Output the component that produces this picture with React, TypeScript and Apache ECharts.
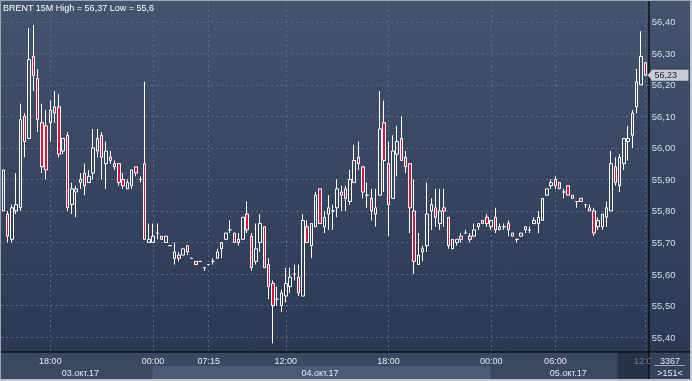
import React, { useEffect, useRef } from 'react';
import * as echarts from 'echarts';

// ---- data (15-minute Brent bars, left to right) ----
const opens = [
  55.80, 55.79, 55.71, 55.80, 55.81, 56.10, 56.03, 56.29, 56.22, 56.08,
  56.07, 56.08, 56.13, 56.13, 55.99, 56.04, 55.82, 55.86, 55.89, 55.92,
  55.89, 55.92, 55.99, 56.04, 55.95, 55.97, 55.95, 55.95, 55.90, 55.87,
  55.88, 55.94, 55.90, 55.95, 55.70, 55.70, 55.73, 55.72, 55.70, 55.69,
  55.65, 55.66, 55.66, 55.69, 55.65, 55.64, 55.64, 55.62, 55.63, 55.64,
  55.65, 55.68, 55.71, 55.74, 55.73, 55.71, 55.71, 55.79, 55.72, 55.64,
  55.70, 55.75, 55.63, 55.57, 55.52, 55.50, 55.53, 55.56, 55.60, 55.59,
  55.53, 55.75, 55.69, 55.75, 55.87, 55.75, 55.79, 55.80, 55.81, 55.85,
  55.87, 55.83, 55.89, 55.97, 55.94, 55.85, 55.84, 55.79, 55.85, 56.08,
  55.95, 55.84, 55.98, 56.03, 55.97, 55.95, 55.80, 55.63, 55.67, 55.69,
  55.80, 55.81, 55.76, 55.81, 55.78, 55.68, 55.70, 55.72, 55.73, 55.72,
  55.72, 55.75, 55.77, 55.78, 55.75, 55.78, 55.75, 55.75, 55.76, 55.73,
  55.71, 55.72, 55.74, 55.74, 55.76, 55.76, 55.77, 55.85, 55.88, 55.90,
  55.89, 55.86, 55.88, 55.84, 55.83, 55.84, 55.82, 55.81, 55.80, 55.75,
  55.75, 55.78, 55.80, 55.94, 55.88, 55.95, 56.02, 56.04, 56.13, 56.20,
  56.27
];
const closes = [
  55.93, 55.72, 55.81, 55.82, 56.09, 56.02, 56.28, 56.23, 56.09, 55.94,
  55.93, 56.12, 56.11, 55.98, 56.03, 55.81, 55.87, 55.87, 55.90, 55.88,
  55.91, 56.00, 56.03, 55.97, 55.99, 55.96, 55.94, 55.89, 55.88, 55.89,
  55.93, 55.92, 55.90, 55.71, 55.71, 55.72, 55.73, 55.71, 55.72, 55.69,
  55.67, 55.65, 55.68, 55.67, 55.65, 55.63, 55.64, 55.62, 55.63, 55.64,
  55.67, 55.70, 55.73, 55.74, 55.70, 55.70, 55.78, 55.74, 55.62, 55.68,
  55.76, 55.62, 55.56, 55.50, 55.52, 55.54, 55.57, 55.59, 55.60, 55.54,
  55.77, 55.70, 55.76, 55.85, 55.76, 55.78, 55.81, 55.80, 55.87, 55.86,
  55.84, 55.90, 55.96, 55.95, 55.86, 55.85, 55.80, 55.81, 56.06, 55.96,
  55.82, 55.99, 56.02, 55.96, 55.94, 55.81, 55.64, 55.66, 55.68, 55.79,
  55.82, 55.78, 55.80, 55.80, 55.69, 55.71, 55.71, 55.71, 55.73, 55.71,
  55.74, 55.76, 55.76, 55.76, 55.77, 55.74, 55.74, 55.75, 55.74, 55.72,
  55.71, 55.73, 55.75, 55.74, 55.77, 55.78, 55.84, 55.87, 55.89, 55.88,
  55.87, 55.86, 55.85, 55.85, 55.83, 55.83, 55.82, 55.80, 55.73, 55.77,
  55.79, 55.81, 55.95, 55.89, 55.97, 56.03, 56.03, 56.11, 56.21, 56.29,
  56.23
];
const lows = [
  55.80, 55.70, 55.70, 55.79, 55.80, 55.97, 56.03, 56.18, 56.05, 55.92,
  55.90, 56.02, 56.08, 55.97, 55.98, 55.80, 55.79, 55.78, 55.87, 55.85,
  55.89, 55.90, 55.97, 55.90, 55.87, 55.95, 55.93, 55.88, 55.87, 55.87,
  55.87, 55.91, 55.89, 55.71, 55.70, 55.70, 55.71, 55.71, 55.70, 55.69,
  55.63, 55.64, 55.66, 55.66, 55.65, 55.63, 55.64, 55.61, 55.63, 55.63,
  55.65, 55.65, 55.71, 55.73, 55.70, 55.69, 55.71, 55.73, 55.61, 55.63,
  55.67, 55.62, 55.52, 55.38, 55.50, 55.48, 55.51, 55.54, 55.58, 55.53,
  55.53, 55.70, 55.65, 55.75, 55.76, 55.73, 55.74, 55.74, 55.78, 55.80,
  55.80, 55.82, 55.89, 55.93, 55.84, 55.81, 55.77, 55.75, 55.85, 55.86,
  55.72, 55.84, 55.91, 55.96, 55.92, 55.73, 55.60, 55.63, 55.64, 55.67,
  55.74, 55.75, 55.74, 55.75, 55.68, 55.68, 55.69, 55.70, 55.73, 55.70,
  55.72, 55.74, 55.76, 55.75, 55.74, 55.73, 55.74, 55.74, 55.72, 55.72,
  55.70, 55.72, 55.73, 55.73, 55.76, 55.73, 55.77, 55.85, 55.87, 55.87,
  55.87, 55.84, 55.85, 55.84, 55.81, 55.83, 55.81, 55.80, 55.72, 55.74,
  55.74, 55.75, 55.80, 55.88, 55.86, 55.93, 55.96, 56.00, 56.11, 56.20,
  56.23
];
const highs = [
  55.93, 55.80, 55.82, 55.92, 56.14, 56.11, 56.38, 56.39, 56.25, 56.14,
  56.12, 56.15, 56.18, 56.17, 56.03, 56.05, 55.89, 55.88, 55.92, 55.95,
  55.93, 56.06, 56.06, 56.05, 56.02, 55.99, 55.96, 55.95, 55.92, 55.90,
  55.93, 55.94, 55.91, 56.21, 55.76, 55.76, 55.76, 55.72, 55.72, 55.69,
  55.70, 55.67, 55.68, 55.69, 55.65, 55.64, 55.64, 55.62, 55.63, 55.65,
  55.68, 55.70, 55.73, 55.77, 55.73, 55.73, 55.78, 55.83, 55.73, 55.76,
  55.79, 55.75, 55.65, 55.58, 55.56, 55.55, 55.62, 55.62, 55.63, 55.63,
  55.79, 55.77, 55.76, 55.86, 55.87, 55.80, 55.85, 55.82, 55.90, 55.88,
  55.88, 55.93, 56.01, 56.02, 55.94, 55.89, 55.87, 55.87, 56.18, 56.15,
  56.02, 56.04, 56.07, 56.10, 55.99, 55.95, 55.90, 55.73, 55.69, 55.89,
  55.84, 55.87, 55.87, 55.87, 55.78, 55.71, 55.71, 55.73, 55.74, 55.73,
  55.76, 55.76, 55.77, 55.79, 55.77, 55.81, 55.76, 55.76, 55.77, 55.73,
  55.71, 55.73, 55.75, 55.75, 55.78, 55.80, 55.84, 55.87, 55.90, 55.91,
  55.89, 55.87, 55.88, 55.85, 55.83, 55.84, 55.82, 55.82, 55.81, 55.78,
  55.79, 55.83, 55.99, 55.97, 55.98, 56.03, 56.07, 56.12, 56.25, 56.37,
  56.27
];
const categories = opens.map((_, i) => String(i));

// time tick labels (bar index -> label)
const timeTickIdx = [11, 35, 48, 66, 90, 114, 129, 150];
const timeTickLabels = ['18:00', '00:00', '07:15', '12:00', '18:00', '00:00', '06:00', '12:00'];
const dateIdx = [18, 74, 132];
const dateLabels = ['03.окт.17', '04.окт.17', '05.окт.17'];

const titleText = 'BRENT 15M High = 56,37 Low = 55,6';
const lastPrice = closes[closes.length - 1];
const barsTotal = '3367';
const barsVisible = '>151<';

const FONT = '"Liberation Sans", Arial, sans-serif';
const GRID_COLOR = '#5a6a88';
const fmt = (v: number) => v.toFixed(2).replace('.', ',');
const isTenth = (v: number) => Math.abs(v * 10 - Math.round(v * 10)) < 1e-6;

export default function App() {
  const ref = useRef<HTMLDivElement>(null);
  useEffect(() => {
    if (!ref.current) return;
    const chart = echarts.init(ref.current, undefined, { renderer: 'svg' });
    const data = opens.map((o, i) => [o, closes[i], lows[i], highs[i]]);

    const graphic: any[] = [
      {
        id: 'bg', type: 'rect', z: -10, silent: true,
        shape: { x: 0, y: 0, width: 692, height: 381 },
        style: {
          fill: { type: 'linear', x: 0, y: 0, x2: 0, y2: 1,
            colorStops: [{ offset: 0, color: '#44536e' }, { offset: 1, color: '#2a3652' }] },
        },
      },
      { id: 'bottomPanel', type: 'rect', z: 5, silent: true,
        shape: { x: 0, y: 352, width: 692, height: 27 }, style: { fill: '#3a4862' } },
      { id: 'dayBand', type: 'rect', z: 6, silent: true,
        shape: { x: 152.5, y: 366, width: 338, height: 13 }, style: { fill: '#4b5a76' } },
      { id: 'nowBox', type: 'rect', z: 6, silent: true,
        shape: { x: 617.5, y: 352.5, width: 31.5, height: 26.5 }, style: { fill: '#28334a' } },
      { id: 'hSep', type: 'line', z: 8, silent: true,
        shape: { x1: 0, y1: 352, x2: 692, y2: 352 }, style: { stroke: '#0c1017', lineWidth: 1.5 } },
      { id: 'vSep', type: 'line', z: 8, silent: true,
        shape: { x1: 649, y1: 0, x2: 649, y2: 379 }, style: { stroke: '#0c1017', lineWidth: 1.5 } },
      { id: 'cntBox', type: 'rect', z: 25, silent: true,
        shape: { x: 649.8, y: 352.8, width: 40, height: 26 }, style: { fill: '#34425c' } },
      { id: 'cntText', type: 'text', z: 26, silent: true, x: 670, y: 360.5,
        style: { text: barsTotal, fill: '#e2e8f2', font: `9px ${FONT}`, align: 'center', verticalAlign: 'middle' } },
      { id: 'cntLine', type: 'line', z: 26, silent: true,
        shape: { x1: 654, y1: 365.5, x2: 685, y2: 365.5 }, style: { stroke: '#9aa6b8', lineWidth: 1 } },
      { id: 'visText', type: 'text', z: 26, silent: true, x: 670, y: 372.5,
        style: { text: barsVisible, fill: '#e2e8f2', font: `9px ${FONT}`, align: 'center', verticalAlign: 'middle' } },
      { id: 'frameTop', type: 'rect', z: 40, silent: true,
        shape: { x: 0, y: 0, width: 692, height: 1 }, style: { fill: '#9aa5b6' } },
      { id: 'frameLeft', type: 'rect', z: 40, silent: true,
        shape: { x: 0, y: 0, width: 1, height: 381 }, style: { fill: '#9aa5b6' } },
      { id: 'frameRight', type: 'rect', z: 40, silent: true,
        shape: { x: 690, y: 0, width: 2, height: 381 }, style: { fill: '#bcc3cd' } },
      { id: 'frameBottom', type: 'rect', z: 40, silent: true,
        shape: { x: 0, y: 379, width: 692, height: 2 }, style: { fill: '#bcc3cd' } },
    ];

    const labelAxisBase = {
      type: 'category', data: categories, position: 'bottom', gridIndex: 0, z: 20,
      axisLine: { show: false }, axisTick: { show: false }, splitLine: { show: false },
    };

    const option: any = {
      animation: false,
      textStyle: { fontFamily: FONT },
      title: {
        text: titleText, left: 3, top: 3, padding: 0,
        textStyle: { color: '#ffffff', fontSize: 9, fontWeight: 'normal', fontFamily: FONT },
      },
      grid: { left: 1.16, top: 0, width: 646.24, height: 368.6 },
      xAxis: [
        {
          type: 'category', data: categories, boundaryGap: true, gridIndex: 0,
          axisLine: { show: false }, axisTick: { show: false }, axisLabel: { show: false },
          splitLine: {
            show: true, alignWithLabel: true,
            interval: (i: number) => timeTickIdx.includes(i),
            lineStyle: { color: GRID_COLOR, type: [2, 3], width: 1 },
          },
        },
        {
          ...labelAxisBase,
          axisLabel: {
            show: true, margin: -8, verticalAlign: 'middle', fontSize: 9, fontFamily: FONT,
            interval: (i: number) => timeTickIdx.includes(i),
            formatter: (v: string) => {
              const k = timeTickIdx.indexOf(Number(v));
              return k >= 0 ? timeTickLabels[k] : '';
            },
            color: (v: string) => (Number(v) === timeTickIdx[timeTickIdx.length - 1] ? '#6d7c96' : '#e4eaf4'),
          },
        },
        {
          ...labelAxisBase,
          axisLabel: {
            show: true, margin: 4, verticalAlign: 'middle', fontSize: 9, fontFamily: FONT, color: '#e4eaf4',
            interval: (i: number) => dateIdx.includes(i),
            formatter: (v: string) => {
              const k = dateIdx.indexOf(Number(v));
              return k >= 0 ? dateLabels[k] : '';
            },
          },
        },
      ],
      yAxis: {
        type: 'value', position: 'right', min: 55.3, max: 56.469, interval: 0.1,
        axisLine: { show: false }, axisTick: { show: false },
        axisLabel: {
          margin: 4.3, color: '#d6deec', fontSize: 9.5, fontFamily: FONT,
          formatter: (v: number) => (v < 55.35 || !isTenth(v) ? '' : fmt(v)),
        },
        splitLine: { show: true, lineStyle: { color: GRID_COLOR, type: [2, 3], width: 1 } },
      },
      series: [
        {
          type: 'candlestick', xAxisIndex: 0, yAxisIndex: 0, data, barWidth: 3,
          itemStyle: {
            color: 'transparent', color0: '#dc143c',
            borderColor: '#ffffff', borderColor0: '#ffffff', borderWidth: 1,
          },
          markLine: {
            silent: true, symbol: ['none', 'none'], animation: false,
            data: [{ yAxis: lastPrice }],
            lineStyle: { color: 'transparent', width: 0 },
            label: {
              show: true, position: 'end', distance: 4,
              formatter: (p: any) => fmt(Number(p.value)),
              backgroundColor: '#c9ced6', color: '#1b2333', fontSize: 9, fontFamily: FONT,
              padding: [1, 3, 0, 3], lineHeight: 10, width: 31, align: 'left', opacity: 1,
            },
          },
        },
      ],
      graphic: { elements: graphic },
    };
    chart.setOption(option);

    const py = chart.convertToPixel({ yAxisIndex: 0 }, lastPrice) as number;
    chart.setOption({
      graphic: {
        elements: [
          { id: 'priceArrow', type: 'polygon', z: 30, silent: true,
            shape: { points: [[647.5, py], [652, py - 5], [652, py + 5]] },
            style: { fill: '#c9ced6' } },
        ],
      },
    });

    return () => chart.dispose();
  }, []);
  return <div ref={ref} style={{ position: 'fixed', left: 0, top: 0, width: 692, height: 381 }} />;
}
